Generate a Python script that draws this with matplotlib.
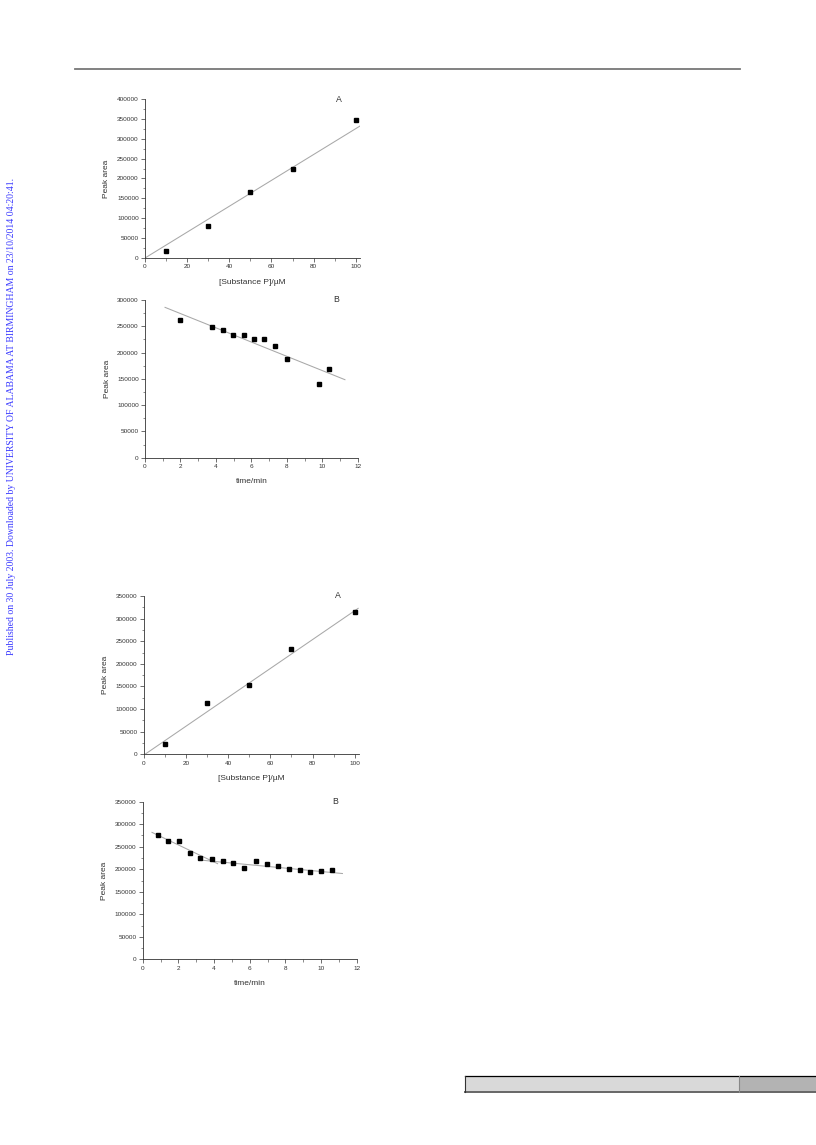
import matplotlib
matplotlib.use("Agg")
import matplotlib.pyplot as plt
from matplotlib.lines import Line2D
from matplotlib.patches import Rectangle
from matplotlib.ticker import MultipleLocator

# ---- data ----
conc = [10, 30, 50, 70, 100]

# first set
area_a1 = [18500, 79800, 165500, 224400, 347000]
fit_a1_x = [0, 102]
fit_a1_y = [0, 332000]

time_b1 = [2.0, 3.8, 4.38, 4.97, 5.57, 6.15, 6.73, 7.35, 7.99, 9.8, 10.38]
area_b1 = [262000, 249000, 242000, 233000, 233000, 225000, 225000, 212000, 188000, 139500, 168700]
fit_b1_x = [1.13, 11.28]
fit_b1_y = [286000, 148400]

# second set
area_a2 = [22100, 113500, 153300, 232800, 313900]
fit_a2_x = [0.6, 101.6]
fit_a2_y = [0, 322700]

time_b2 = [0.84, 1.44, 2.04, 2.64, 3.23, 3.9, 4.49, 5.07, 5.7, 6.34, 6.97, 7.57, 8.19, 8.8, 9.4, 10.0, 10.6]
area_b2 = [276000, 263400, 262700, 236800, 224200, 222700, 218300, 213800, 203500, 219000,
           212400, 207900, 201300, 197600, 193100, 196800, 197600]
fit_b2a_x = [0.52, 4.2]
fit_b2a_y = [281900, 212400]
fit_b2b_x = [3.2, 11.2]
fit_b2b_y = [220500, 190500]

plt.rcParams["font.family"] = ["Liberation Sans", "DejaVu Sans"]

W, H = 816, 1145
fig = plt.figure(figsize=(W / 100, H / 100), dpi=100)


def px_axes(left, top, right, bottom):
    return fig.add_axes([left / W, 1 - bottom / H, (right - left) / W, (bottom - top) / H])


def style(ax, xlim, ylim, xmaj, ymaj, xlabel, letter):
    ax.set_xlim(*xlim)
    ax.set_ylim(*ylim)
    ax.xaxis.set_major_locator(MultipleLocator(xmaj))
    ax.xaxis.set_minor_locator(MultipleLocator(xmaj / 2))
    ax.yaxis.set_major_locator(MultipleLocator(ymaj))
    ax.yaxis.set_minor_locator(MultipleLocator(ymaj / 2))
    for s in ["top", "right"]:
        ax.spines[s].set_visible(False)
    for s in ["left", "bottom"]:
        ax.spines[s].set_linewidth(0.6)
        ax.spines[s].set_color("#333333")
    ax.tick_params(which="major", direction="out", length=3, width=0.5, pad=1.5,
                   labelsize=4.6, colors="#333333")
    ax.tick_params(which="minor", direction="out", length=1.8, width=0.4, colors="#333333")
    ax.set_xlabel(xlabel, fontsize=6, color="#333333")
    ax.set_ylabel("Peak area", fontsize=6, color="#333333")
    ax.yaxis.set_label_coords(-0.162, 0.5)
    ax.xaxis.set_label_coords(0.5, -0.13)
    ax.text(0.9, 1.0, letter, transform=ax.transAxes, ha="center", va="center",
            fontsize=6.3, color="#333333")


mk = dict(marker="s", ms=2.7, color="black", linestyle="none")
fit = dict(color="#a8a8a8", lw=0.75)

ax1 = px_axes(145, 99, 360, 258)
ax1.plot(fit_a1_x, fit_a1_y, **fit)
ax1.plot(conc, area_a1, **mk)
style(ax1, (0, 102), (0, 400000), 20, 50000, "[Substance P]/\u00b5M", "A")

ax2 = px_axes(145, 300, 357.7, 457.7)
ax2.plot(fit_b1_x, fit_b1_y, **fit)
ax2.plot(time_b1, area_b1, **mk)
style(ax2, (0, 12), (0, 300000), 2, 50000, "time/min", "B")

ax3 = px_axes(143.7, 596, 359, 754.3)
ax3.plot(fit_a2_x, fit_a2_y, **fit)
ax3.plot(conc, area_a2, **mk)
style(ax3, (0, 102), (0, 350000), 20, 50000, "[Substance P]/\u00b5M", "A")

ax4 = px_axes(142.7, 801.7, 356.7, 959.3)
ax4.plot(fit_b2a_x, fit_b2a_y, **fit)
ax4.plot(fit_b2b_x, fit_b2b_y, **fit)
ax4.plot(time_b2, area_b2, **mk)
style(ax4, (0, 12), (0, 350000), 2, 50000, "time/min", "B")

# header rule
fig.add_artist(Line2D([75 / W, 740 / W], [1 - 68.7 / H] * 2, color="#777777", lw=1.3))

# side watermark
fig.text(12 / W, 1 - 416 / H,
         "Published on 30 July 2003. Downloaded by UNIVERSITY OF ALABAMA AT BIRMINGHAM on 23/10/2014 04:20:41.",
         rotation=90, ha="center", va="center", color="#3a3aff",
         fontsize=7.0, family=["Liberation Serif", "DejaVu Serif"])

# footer box
y0, y1 = 1 - 1092 / H, 1 - 1075.5 / H
fig.add_artist(Rectangle((465 / W, y0), (738.5 - 465) / W, y1 - y0,
                         facecolor="#d9d9d9", edgecolor="none"))
fig.add_artist(Rectangle((738.5 / W, y0), (W - 738.5) / W, y1 - y0,
                         facecolor="#b3b3b3", edgecolor="none"))
fig.add_artist(Line2D([465 / W, 1], [y1, y1], color="black", lw=0.9))
fig.add_artist(Line2D([465 / W, 1], [y0, y0], color="#666666", lw=1.4))
fig.add_artist(Line2D([465 / W, 465 / W], [y0, y1], color="#333333", lw=0.8))
fig.add_artist(Line2D([738.5 / W, 738.5 / W], [y0, y1], color="#888888", lw=0.8))

fig.savefig("out.png", dpi=100)
